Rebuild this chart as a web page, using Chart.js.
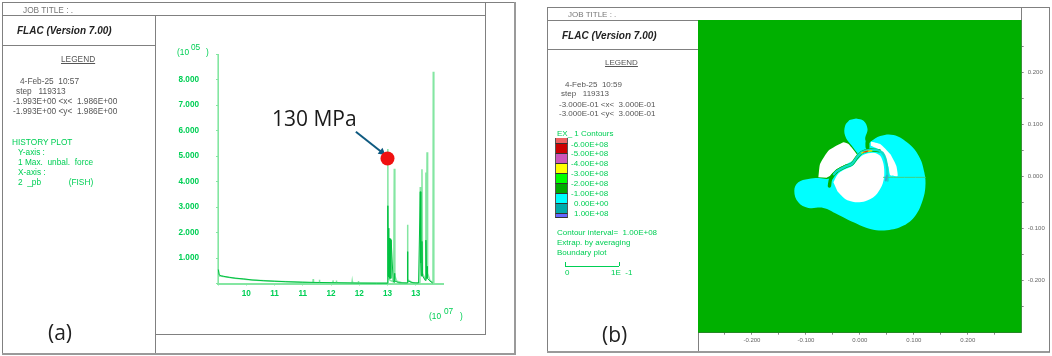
<!DOCTYPE html>
<html>
<head>
<meta charset="utf-8">
<script src="https://cdn.jsdelivr.net/npm/chart.js@4"></script>
<style>
  html, body { margin: 0; padding: 0; background: #fff; }
  #page { position: relative; width: 1052px; height: 356px; overflow: hidden; font-family: "Liberation Sans", Arial, sans-serif; filter: blur(0.3px); }
  canvas { position: absolute; }
  .ln { position: absolute; background: #808080; }
  .o { background: #9a9a9a; }
  .t { position: absolute; white-space: pre; line-height: 10px; font-size: 8.3px; color: #555; }
  .r { font-size: 8px; }
  .g { color: #00cf55; }
  .flac { font: italic bold 10px "Liberation Sans", sans-serif; color: #222; }
  .leg { text-decoration: underline; }
  .swatch { position: absolute; left: 555px; width: 11px; border-left: 1px solid #555; border-right: 1px solid #555; border-bottom: 1px solid #333; box-sizing: content-box; }
</style>
</head>
<body>
<div id="page">
  <!-- frame (a) -->
  <div class="ln" style="left:2px;top:2px;width:513px;height:1px"></div>
  <div class="ln" style="left:2px;top:15px;width:484px;height:1px"></div>
  <div class="ln" style="left:2px;top:2px;width:1px;height:352px"></div>
  <div class="ln" style="left:155px;top:15px;width:1px;height:339px"></div>
  <div class="ln" style="left:2px;top:45px;width:153px;height:1px"></div>
  <div class="ln" style="left:155px;top:334px;width:331px;height:1px"></div>
  <div class="ln" style="left:485px;top:2px;width:1px;height:332px"></div>
  <div class="ln o" style="left:2px;top:353px;width:514px;height:2px"></div>
  <div class="ln o" style="left:514px;top:2px;width:2px;height:352px"></div>

  <!-- frame (b) -->
  <div class="ln" style="left:547px;top:7px;width:503px;height:1px"></div>
  <div class="ln" style="left:547px;top:20px;width:475px;height:1px"></div>
  <div class="ln" style="left:547px;top:7px;width:1px;height:345px"></div>
  <div class="ln" style="left:698px;top:20px;width:1px;height:332px"></div>
  <div class="ln" style="left:547px;top:49px;width:151px;height:1px"></div>
  <div class="ln o" style="left:547px;top:351px;width:503px;height:2px"></div>
  <div class="ln" style="left:1049px;top:7px;width:1px;height:345px"></div>
  <div class="ln" style="left:1021px;top:7px;width:1px;height:14px"></div>

  <!-- left text -->
  <div class="t" style="left:23px;top:5px;color:#777">JOB TITLE : .</div>
  <div class="t flac" style="left:17px;top:25px">FLAC (Version 7.00)</div>
  <div class="t leg" style="left:61px;top:54px">LEGEND</div>
  <div class="t" style="left:20px;top:76px">4-Feb-25  10:57</div>
  <div class="t" style="left:16px;top:86px">step   119313</div>
  <div class="t" style="left:13px;top:96px">-1.993E+00 &lt;x&lt;  1.986E+00</div>
  <div class="t" style="left:13px;top:106px">-1.993E+00 &lt;y&lt;  1.986E+00</div>
  <div class="t g" style="left:12px;top:137px">HISTORY PLOT</div>
  <div class="t g" style="left:18px;top:147px">Y-axis :</div>
  <div class="t g" style="left:18px;top:157px">1 Max.  unbal.  force</div>
  <div class="t g" style="left:18px;top:167px">X-axis :</div>
  <div class="t g" style="left:18px;top:177px">2  _pb            (FISH)</div>
  <div class="t" style="left:48px;top:322px;font:21px/20px 'Open Sans',sans-serif;color:#222">(a)</div>

  <!-- left axis multipliers -->
  <div class="t g" style="left:177px;top:47px">(10</div>
  <div class="t g" style="left:191px;top:42px">05</div>
  <div class="t g" style="left:206px;top:47px">)</div>
  <div class="t g" style="left:429px;top:311px">(10</div>
  <div class="t g" style="left:444px;top:306px">07</div>
  <div class="t g" style="left:460px;top:311px">)</div>

  <!-- annotation -->
  <div class="t" style="left:272px;top:106px;font:21px/24px 'Open Sans',sans-serif;color:#1a1a1a">130 MPa</div>

  <!-- right text -->
  <div class="t r" style="left:568px;top:10px;color:#777">JOB TITLE : .</div>
  <div class="t flac" style="left:562px;top:30px">FLAC (Version 7.00)</div>
  <div class="t r leg" style="left:605px;top:58px">LEGEND</div>
  <div class="t r" style="left:565px;top:80px">4-Feb-25  10:59</div>
  <div class="t r" style="left:561px;top:89px">step   119313</div>
  <div class="t r" style="left:559px;top:100px">-3.000E-01 &lt;x&lt;  3.000E-01</div>
  <div class="t r" style="left:559px;top:109px">-3.000E-01 &lt;y&lt;  3.000E-01</div>
  <div class="t r g" style="left:557px;top:129px">EX_ 1 Contours</div>

  <div class="swatch" style="top:138px;height:5px;background:#f06060"></div>
  <div class="swatch" style="top:144px;height:9px;background:#cc0000"></div>
  <div class="swatch" style="top:154px;height:9px;background:#cc55bb"></div>
  <div class="swatch" style="top:164px;height:9px;background:#ffff00"></div>
  <div class="swatch" style="top:174px;height:9px;background:#00ff00"></div>
  <div class="swatch" style="top:184px;height:9px;background:#00aa00"></div>
  <div class="swatch" style="top:194px;height:9px;background:#00ffff"></div>
  <div class="swatch" style="top:204px;height:9px;background:#00aaaa"></div>
  <div class="swatch" style="top:214px;height:3px;background:#6666ff"></div>

  <div class="t r g" style="left:571px;top:140px">-6.00E+08</div>
  <div class="t r g" style="left:571px;top:149px">-5.00E+08</div>
  <div class="t r g" style="left:571px;top:159px">-4.00E+08</div>
  <div class="t r g" style="left:571px;top:169px">-3.00E+08</div>
  <div class="t r g" style="left:571px;top:179px">-2.00E+08</div>
  <div class="t r g" style="left:571px;top:189px">-1.00E+08</div>
  <div class="t r g" style="left:574px;top:199px">0.00E+00</div>
  <div class="t r g" style="left:574px;top:209px">1.00E+08</div>
  <div class="t r g" style="left:557px;top:228px">Contour interval=  1.00E+08</div>
  <div class="t r g" style="left:557px;top:238px">Extrap. by averaging</div>
  <div class="t r g" style="left:557px;top:248px">Boundary plot</div>
  <div class="ln" style="left:565px;top:266px;width:54px;height:1px;background:#00cf55"></div>
  <div class="ln" style="left:565px;top:262px;width:1px;height:4px;background:#00cf55"></div>
  <div class="ln" style="left:619px;top:262px;width:1px;height:4px;background:#00cf55"></div>
  <div class="t r g" style="left:565px;top:268px">0</div>
  <div class="t r g" style="left:611px;top:268px">1E  -1</div>
  <div class="t" style="left:602px;top:324px;font:21px/20px 'Open Sans',sans-serif;color:#222">(b)</div>

  <canvas id="historyChart"></canvas>
  <canvas id="contourChart"></canvas>
</div>

<script>
// (a) history plot: pb (10^7) against max unbalanced force (10^5)
const historyXTicks = [9.5, 10, 10.5, 11, 11.5, 12, 12.5, 13, 13.5];
const historyXLabels = ['', '10', '11', '11', '12', '12', '13', '13', ''];
const historyYTicks = [0, 1, 2, 3, 4, 5, 6, 7, 8, 9];
const historyYLabels = ['', '1.000', '2.000', '3.000', '4.000', '5.000', '6.000', '7.000', '8.000', ''];

const spikeX = [9.5, 9.5, 9.505, 9.52, 9.8, 10.1, 10.5, 11.0, 11.18, 11.185, 11.19, 11.29, 11.295, 11.3, 11.53, 11.535, 11.54, 11.59, 11.595, 11.6, 11.87, 11.875, 11.88, 11.98, 11.985, 11.99, 12.5, 12.506, 12.51, 12.55, 12.61, 12.62, 12.63, 12.66, 12.75, 12.85, 12.855, 12.86, 12.92, 13.0, 13.075, 13.08, 13.09, 13.105, 13.11, 13.12, 13.17, 13.18, 13.19, 13.2, 13.21, 13.25, 13.305, 13.31, 13.32];
const spikeY = [0, 9.0, 0.6, 0.3, 0.21, 0.14, 0.09, 0.05, 0.03, 0.17, 0.03, 0.03, 0.15, 0.03, 0.02, 0.12, 0.02, 0.02, 0.12, 0.02, 0.02, 0.1, 0.02, 0.02, 0.1, 0.02, 0.02, 5.27, 0.2, 0.12, 0.06, 4.5, 0.3, 0.1, 0.03, 0.02, 2.3, 0.15, 0.05, 0.01, 0.05, 3.78, 0.5, 0.3, 4.48, 0.4, 0.15, 4.35, 0.3, 5.15, 0.4, 0.12, 0.03, 8.3, 0];

const tailX = [9.505, 9.52, 9.56, 9.6, 9.7, 9.8, 9.95, 10.1, 10.3, 10.5, 10.7, 11.0, 11.3, 11.6, 12.0, 12.3, 12.5, 12.506, 12.512, 12.52, 12.526, 12.532, 12.54, 12.55, 12.558, 12.565, 12.6, 12.62, 12.625, 12.63, 12.7, 12.85, 12.855, 12.86, 12.95, 13.05, 13.08, 13.09, 13.1, 13.11, 13.12, 13.17, 13.18, 13.19, 13.2, 13.205, 13.25, 13.3];
const tailY = [0.55, 0.34, 0.3, 0.28, 0.24, 0.21, 0.18, 0.14, 0.11, 0.09, 0.07, 0.05, 0.04, 0.03, 0.015, 0.01, 0.01, 3.05, 0.3, 2.17, 0.25, 1.78, 0.2, 1.75, 0.2, 1.7, 0.1, 0.05, 0.4, 0.1, 0.03, 0.02, 1.25, 0.1, 0.03, 0.02, 3.6, 0.8, 0.3, 1.65, 0.3, 0.12, 1.7, 0.2, 0.67, 0.2, 0.1, 0.02];

const markerX = [12.5];
const markerY = [4.9];
// arrow runs from the label to the marker
const arrowX = [11.94, 12.4];
const arrowY = [5.95, 5.15];

// (b) contour plot outlines, model coordinates
const boxX = [-0.3, 0.3, 0.3, -0.3];
const boxY = [0.3, 0.3, -0.3, -0.3];
const cyanX = [0.0204, 0.0377, 0.0625, 0.0873, 0.1090, 0.1195, 0.1214, 0.1152, 0.1028, 0.0811, 0.0501, 0.0191, -0.0118, -0.0428, -0.0676, -0.0955, -0.1141, -0.1215, -0.1141, -0.0955, -0.0769, -0.0552, -0.0056];
const cyanY = [0.0671, 0.0773, 0.0792, 0.0652, 0.0397, 0.0077, -0.0211, -0.0498, -0.0754, -0.0944, -0.1034, -0.1008, -0.0881, -0.0721, -0.0606, -0.0606, -0.0497, -0.0274, -0.0114, -0.0050, -0.0031, -0.0031, 0.0428];
const lobeX = [-0.0069, 0.0068, 0.0142, 0.0099, 0.0142, 0.0006, -0.0149, -0.0273, -0.0273, -0.0193];
const lobeY = [0.1112, 0.1067, 0.0907, 0.0716, 0.0588, 0.0428, 0.0588, 0.0780, 0.0971, 0.1080];
const leftVoidX = [-0.0769, -0.0738, -0.0583, -0.0304, -0.0211, -0.0044, -0.0131, -0.0273, -0.0428, -0.0552, -0.0614];
const leftVoidY = [-0.0019, 0.0237, 0.0492, 0.0652, 0.0620, 0.0397, 0.0301, 0.0224, 0.0141, 0.0013, -0.0025];
const rightVoidX = [0.0204, 0.0377, 0.0563, 0.0675, 0.0700, 0.0563, 0.0532, 0.0470, 0.0377, 0.0204];
const rightVoidY = [0.0671, 0.0620, 0.0428, 0.0205, 0.0007, 0.0020, 0.0173, 0.0365, 0.0505, 0.0588];
const beanX = [-0.0490, -0.0416, -0.0304, -0.0131, -0.0044, 0.0067, 0.0253, 0.0377, 0.0439, 0.0452, 0.0408, 0.0284, 0.0099, -0.0087, -0.0273, -0.0416];
const beanY = [-0.0114, 0.0033, 0.0122, 0.0205, 0.0314, 0.0416, 0.0454, 0.0397, 0.0237, 0.0013, -0.0178, -0.0370, -0.0478, -0.0497, -0.0434, -0.0287];
const bandX = [-0.0564, -0.0540, -0.0428, -0.0273, -0.0149, -0.0056, 0.0037, 0.0191, 0.0359];
const bandY = [-0.0185, -0.0050, 0.0096, 0.0186, 0.0237, 0.0365, 0.0460, 0.0505, 0.0492];
const bandCoreX = [-0.0480, -0.0428, -0.0273, -0.0149, -0.0056, 0.0037, 0.0191, 0.0359, 0.0452, 0.0501, 0.0514];
const bandCoreY = [0.0040, 0.0096, 0.0186, 0.0237, 0.0365, 0.0460, 0.0505, 0.0492, 0.0397, 0.0205, -0.0082];
const wedgeTipX = [0.0142, 0.0142, 0.0173];
const wedgeTipY = [0.0556, 0.0652, 0.0748];
const seamX = [0.0439, 0.1214];
const seamY = [-0.0019, -0.0019];
const yellowX = [0.0037, 0.0130, 0.0220];
const yellowY = [0.0450, 0.0480, 0.0490];
const redX = [0.0070, 0.0150];
const redY = [0.0465, 0.0485];
const blueX = [0.0480, 0.0500];
const blueY = [-0.0080, 0.0010];

const contourTicks = [-0.25, -0.2, -0.15, -0.1, -0.05, 0, 0.05, 0.1, 0.15, 0.2, 0.25];
const contourLabels = ['', '-0.200', '', '-0.100', '', '0.000', '', '0.100', '', '0.200', ''];

const zip = (xs, ys) => xs.map((x, i) => ({ x, y: ys[i] }));
const GREEN = '#00b000', CYAN = '#00ffff';

// pins the chart area so the axes land where the frames expect them
function fixedAxis(size, values, labels) {
  return {
    afterFit: s => {
      if (s.isHorizontal()) s.height = size; else s.width = size;
      s.paddingTop = s.paddingBottom = s.paddingLeft = s.paddingRight = 0;
    },
    afterBuildTicks: s => { s.ticks = values.map(v => ({ value: v })); },
    labelOf: v => labels[values.indexOf(v)]
  };
}

const hx = fixedAxis(30.5, historyXTicks, historyXLabels);
const hy = fixedAxis(58, historyYTicks, historyYLabels);
const histCanvas = document.getElementById('historyChart');
histCanvas.style.cssText = 'left:160px;top:54px;width:284px;height:260px';
histCanvas.width = 284; histCanvas.height = 260;

new Chart(histCanvas, {
  type: 'scatter',
  data: {
    datasets: [
      { data: zip(markerX, markerY), pointRadius: 7, pointHoverRadius: 7, pointBackgroundColor: '#f01010', pointBorderWidth: 0 },
      { data: zip(arrowX, arrowY), showLine: true, borderColor: '#0f5a80', borderWidth: 2, pointStyle: 'triangle', pointRadius: [0, 4.5], pointBackgroundColor: '#0f5a80', pointBorderWidth: 0, pointRotation: 128 },
      { data: zip(tailX, tailY), showLine: true, clip: false, borderColor: '#00c040', borderWidth: 1, pointRadius: 0 },
      { data: zip(spikeX, spikeY), showLine: true, clip: false, borderColor: '#84e6a2', borderWidth: 1.5, pointRadius: 0 }
    ]
  },
  options: {
    responsive: false,
    animation: false,
    layout: { autoPadding: false, padding: 0 },
    plugins: { legend: { display: false }, tooltip: { enabled: false } },
    scales: {
      x: {
        type: 'linear', min: 9.5, max: 13.5,
        afterFit: hx.afterFit, afterBuildTicks: hx.afterBuildTicks,
        border: { color: '#84e6a2', width: 2 },
        grid: { drawOnChartArea: false, color: '#84e6a2', tickLength: 2 },
        ticks: { color: '#00cf55', font: { size: 8.2, weight: 'bold', family: 'Liberation Sans' }, maxRotation: 0, autoSkip: false, padding: 3, callback: v => hx.labelOf(v) }
      },
      y: {
        type: 'linear', min: 0, max: 9,
        afterFit: hy.afterFit, afterBuildTicks: hy.afterBuildTicks,
        border: { color: '#84e6a2', width: 1 },
        grid: { drawOnChartArea: false, color: '#84e6a2', tickLength: 2 },
        ticks: { color: '#00cf55', font: { size: 8.2, weight: 'bold', family: 'Liberation Sans' }, autoSkip: false, padding: 17, callback: v => hy.labelOf(v) }
      }
    }
  }
});

const cx = fixedAxis(24.3, contourTicks, contourLabels);
const cy = fixedAxis(29.3, contourTicks, contourLabels);
const contourCanvas = document.getElementById('contourChart');
contourCanvas.style.cssText = 'left:698px;top:20px;width:353px;height:337px';
contourCanvas.width = 353; contourCanvas.height = 337;

const shape = (xs, ys, color, tension) => ({ data: zip(xs, ys), showLine: true, fill: 'shape', backgroundColor: color, borderWidth: 0, pointRadius: 0, tension });
const stroke = (xs, ys, color, width) => ({ data: zip(xs, ys), showLine: true, borderColor: color, borderWidth: width, borderCapStyle: 'round', pointRadius: 0, tension: 0.3 });

new Chart(contourCanvas, {
  type: 'scatter',
  data: {
    // painted last to first, so the background box stays at the end
    datasets: [
      stroke(blueX, blueY, '#33aacc', 2),
      stroke(redX, redY, '#e02020', 1),
      stroke(yellowX, yellowY, '#e8e800', 1.5),
      stroke(seamX, seamY, '#40d080', 1),
      stroke(bandCoreX, bandCoreY, '#10dcc8', 2.4),
      stroke(bandX, bandY, GREEN, 3.4),
      stroke(wedgeTipX, wedgeTipY, GREEN, 4),
      shape(beanX, beanY, '#fff', 0.3),
      shape(rightVoidX, rightVoidY, '#fff', 0.15),
      shape(leftVoidX, leftVoidY, '#fff', 0.15),
      shape(lobeX, lobeY, CYAN, 0.4),
      shape(cyanX, cyanY, CYAN, 0.4),
      shape(boxX, boxY, GREEN, 0)
    ]
  },
  options: {
    responsive: false,
    animation: false,
    layout: { autoPadding: false, padding: 0 },
    plugins: { legend: { display: false }, tooltip: { enabled: false } },
    scales: {
      x: {
        type: 'linear', min: -0.3, max: 0.3,
        afterFit: cx.afterFit, afterBuildTicks: cx.afterBuildTicks,
        border: { color: '#555', width: 1 },
        grid: { drawOnChartArea: false, color: '#888', tickLength: 2 },
        ticks: { color: '#666', font: { size: 6, family: 'Liberation Sans' }, maxRotation: 0, autoSkip: false, padding: 2, callback: v => cx.labelOf(v) }
      },
      y: {
        type: 'linear', position: 'right', min: -0.3, max: 0.3,
        afterFit: cy.afterFit, afterBuildTicks: cy.afterBuildTicks,
        border: { color: '#777', width: 1 },
        grid: { drawOnChartArea: false, color: '#888', tickLength: 2 },
        ticks: { color: '#666', font: { size: 6, family: 'Liberation Sans' }, autoSkip: false, padding: 4, callback: v => cy.labelOf(v) }
      }
    }
  }
});
</script>
</body>
</html>
